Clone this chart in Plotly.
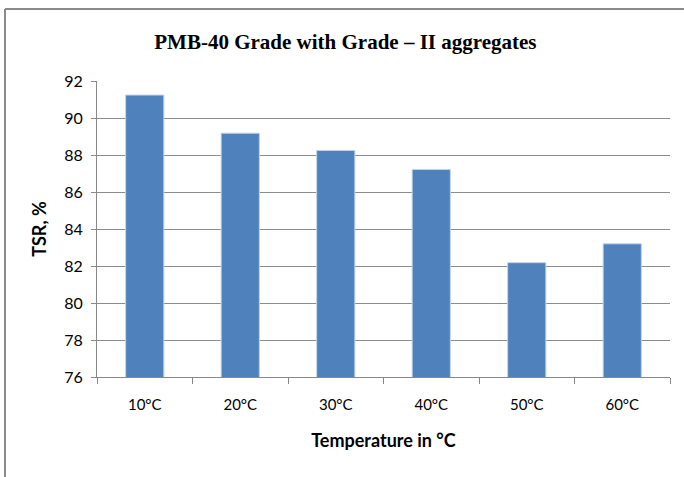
import plotly.graph_objects as go

categories = ["10°C", "20°C", "30°C", "40°C", "50°C", "60°C"]
tsr_values = [91.24, 89.18, 88.25, 87.22, 82.18, 83.2]
y_ticks = [76, 78, 80, 82, 84, 86, 88, 90, 92]

W, H = 684, 477
ml, mr, mt, mb = 97, 14, 81, 100
pw, ph = W - ml - mr, H - mt - mb

def px_x(x):
    return (x - ml) / pw

def px_y(y):
    return (H - mb - y) / ph

fig = go.Figure(go.Bar(
    x=categories, y=tsr_values,
    marker=dict(color="#4F81BD", line=dict(color="#C6D4E8", width=1)),
    width=0.4,
))

fig.update_layout(
    width=W, height=H,
    margin=dict(l=ml, r=mr, t=mt, b=mb),
    paper_bgcolor="white", plot_bgcolor="white",
    showlegend=False,
    title=dict(
        text="<b>PMB-40 Grade with Grade – II aggregates</b>",
        font=dict(family="Liberation Serif", size=21, color="black"),
        x=0.505, xanchor="center", y=1 - 42 / H, yanchor="middle",
    ),
    font=dict(family="Lato", color="black"),
)

fig.update_xaxes(
    type="category",
    showline=True, linecolor="#888888", linewidth=1,
    ticks="outside", tickson="boundaries", ticklen=6, tickcolor="#888888",
    tickfont=dict(family="Lato", size=15, color="black"),
    ticklabelstandoff=14,
    title=dict(text="<b>Temperature in °C</b>", font=dict(family="Lato", size=18, color="black"), standoff=22),
    showgrid=False,
)

fig.update_yaxes(
    range=[76, 92], tickvals=y_ticks,
    showline=True, linecolor="#888888", linewidth=1,
    ticks="outside", ticklen=5, tickcolor="#888888",
    tickfont=dict(family="Lato", size=16, color="black"),
    ticklabelstandoff=5,
    showgrid=True, gridcolor="#8C8C8C", gridwidth=1,
    title=dict(text="<b>TSR, %</b>", font=dict(family="Lato", size=18, color="black"), standoff=12),
    zeroline=False,
)

border = dict(color="#8A8A8A", width=2)
fig.add_shape(type="line", xref="paper", yref="paper",
              x0=px_x(5), x1=px_x(5), y0=px_y(9), y1=px_y(477), line=border)
fig.add_shape(type="line", xref="paper", yref="paper",
              x0=px_x(5), x1=px_x(684), y0=px_y(9), y1=px_y(9), line=border)

fig.write_html("out.html")
